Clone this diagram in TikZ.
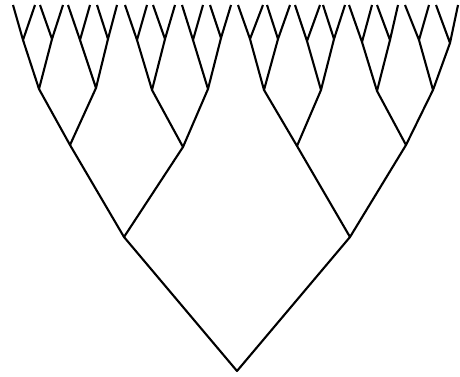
\documentclass[tikz,border=0pt]{standalone}
\begin{document}
\begin{tikzpicture}[x=1pt,y=-1pt,
  edge/.style={line width=2.1pt, line join=round, line cap=butt}]
\useasboundingbox (0,0) rectangle (460,376);
% root and inner levels
\coordinate (r) at (237,371);
\coordinate (a1) at (124,237);
\coordinate (a2) at (350,237);
\foreach \n/\x/\y in {c1/70/145, c2/183/147, c3/297/146, c4/406/145}
  \coordinate (\n) at (\x,\y);
\foreach \n/\x/\y in {d1/39/89, d2/96/88, d3/152/90, d4/208/89,
                      d5/264/90, d6/321/90, d7/377/91, d8/433/90}
  \coordinate (\n) at (\x,\y);
\foreach \n/\x/\y in {e1/23/40, e2/52/39, e3/80/40, e4/108/39,
                      e5/137/40, e6/165/39, e7/193/40, e8/221/38,
                      e9/250/39, e10/278/39, e11/307/41, e12/334/39,
                      e13/362/42, e14/390/40, e15/419/40, e16/450/43}
  \coordinate (\n) at (\x,\y);
% leaves
\foreach \i/\xl/\xr in {1/13/35, 2/40/63, 3/68/90, 4/97/117,
                        5/125/147, 6/153/175, 7/182/203, 8/210/231,
                        9/238/263, 10/267/290, 11/295/320, 12/323/345,
                        13/349/372, 14/377/398, 15/405/429, 16/436/458}{
  \coordinate (fl\i) at (\xl,5);
  \coordinate (fr\i) at (\xr,5);
}
% edges
\foreach \i in {1,...,16}
  \draw[edge] (fl\i) -- (e\i) -- (fr\i);
\foreach \i [evaluate=\i as \j using int(2*\i-1),
             evaluate=\i as \k using int(2*\i)] in {1,...,8}
  \draw[edge] (e\j) -- (d\i) -- (e\k);
\foreach \i [evaluate=\i as \j using int(2*\i-1),
             evaluate=\i as \k using int(2*\i)] in {1,...,4}
  \draw[edge] (d\j) -- (c\i) -- (d\k);
\draw[edge] (c1) -- (a1) -- (c2);
\draw[edge] (c3) -- (a2) -- (c4);
\draw[edge] (a1) -- (r) -- (a2);
\end{tikzpicture}
\end{document}
